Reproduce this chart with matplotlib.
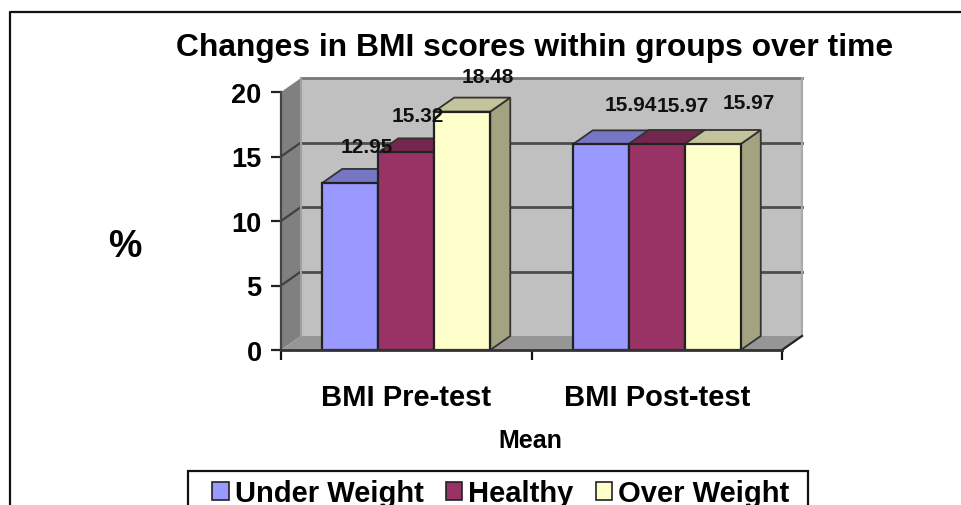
import numpy as np
import matplotlib
matplotlib.use("Agg")
import matplotlib.pyplot as plt
from matplotlib.lines import Line2D
from matplotlib.patches import Polygon, Rectangle

plt.rcParams['font.family'] = ['Liberation Sans', 'DejaVu Sans']
plt.rcParams['font.weight'] = 'bold'

groups = ["BMI Pre-test", "BMI Post-test"]
series = ["Under Weight", "Healthy", "Over Weight"]
under_weight = [12.95, 15.94]
healthy = [15.32, 15.97]
over_weight = [18.48, 15.97]
y_ticks = [0, 5, 10, 15, 20]

front_colors = ["#9999ff", "#993366", "#ffffcc"]
top_colors = ["#7676c4", "#74274e", "#c4c49c"]
side_colors = ["#7272b8", "#6e2549", "#a3a382"]

W, H = 961, 506
fig = plt.figure(figsize=(W / 100, H / 100), dpi=100)
ax = fig.add_axes([281 / W, (H - 351) / H, (782 - 281) / W, (351 - 93) / H])
ax.set_xlim(0, 2)
ax.set_ylim(0, 20)
ax.patch.set_visible(False)

# depth of the fake 3d, converted from pixels to data units
dx = 20 / (782 - 281) * 2
dy = 14 / (351 - 93) * 20
bar_w = 56 / (782 - 281) * 2


def para(points, color, z, edge="none", lw=0):
    ax.add_patch(Polygon(points, closed=True, facecolor=color, edgecolor=edge,
                         linewidth=lw, zorder=z, clip_on=False))


# walls and floor
para([(dx, dy), (2 + dx, dy), (2 + dx, 20 + dy), (dx, 20 + dy)], "#c0c0c0", 1)
para([(0, 0), (dx, dy), (dx, 20 + dy), (0, 20)], "#808080", 1)
para([(0, 0), (2, 0), (2 + dx, dy), (dx, dy)], "#969696", 1)

for v in y_ticks[1:-1]:
    ax.plot([dx, 2 + dx], [v + dy, v + dy], color="#4d4d4d", lw=2, zorder=2, clip_on=False)
    ax.plot([0, dx], [v, v + dy], color="#404040", lw=1.6, zorder=2, clip_on=False)
ax.plot([dx, 2 + dx], [20 + dy, 20 + dy], color="#777777", lw=2, zorder=2, clip_on=False)
ax.plot([dx, dx], [dy, 20 + dy], color="#a0a0a0", lw=1.5, zorder=2, clip_on=False)
ax.plot([2 + dx, 2 + dx], [dy, 20 + dy], color="#a8a8a8", lw=1.5, zorder=2, clip_on=False)
ax.plot([2, 2 + dx], [0, dy], color="#222222", lw=1.6, zorder=2, clip_on=False)

# label offsets from the bar centre in pixels, as they sit in the original
label_dx = [[17, 12, 26], [30, 26, 36]]
label_dy = [[36, 37, 35], [40, 38, 41]]

all_vals = [under_weight, healthy, over_weight]
group_x = np.array([0.5, 1.5])
z = 3
for i, vals in enumerate(all_vals):
    xs = group_x + (i - 1) * bar_w
    for j, (x, v) in enumerate(zip(xs, vals)):
        l, r = x - bar_w / 2, x + bar_w / 2
        para([(r, 0), (r + dx, dy), (r + dx, v + dy), (r, v)], side_colors[i], z,
             "#333333", 1.3)
        para([(l, v), (r, v), (r + dx, v + dy), (l + dx, v + dy)], top_colors[i], z,
             "#333333", 1.3)
    ax.bar(xs, vals, width=bar_w, color=front_colors[i], edgecolor="#222222",
           linewidth=1.6, zorder=z + 1, label=series[i])
    z += 2

for i, vals in enumerate(all_vals):
    xs = group_x + (i - 1) * bar_w
    for j, (x, v) in enumerate(zip(xs, vals)):
        ax.annotate(f"{v:.2f}", (x, v), xytext=(label_dx[j][i] * 0.72, label_dy[j][i] * 0.72),
                    textcoords="offset points", ha="center", va="center",
                    fontsize=15, zorder=20, annotation_clip=False, color="#111111")

for s in ["top", "right"]:
    ax.spines[s].set_visible(False)
ax.spines["left"].set_color("#444444")
ax.spines["left"].set_linewidth(1.6)
ax.spines["bottom"].set_color("#333333")
ax.spines["bottom"].set_linewidth(2)
ax.spines["bottom"].set_zorder(15)

ax.set_yticks(y_ticks)
ax.tick_params(axis="y", labelsize=19.5, length=7, width=1.6, color="#222222", pad=7)
ax.set_xticks([0, 1, 2])
ax.set_xticklabels([])
ax.tick_params(axis="x", which="major", length=7, width=1.6, color="#111111")
ax.set_xticks(group_x, minor=True)
ax.set_xticklabels(groups, minor=True, fontsize=21)
ax.tick_params(axis="x", which="minor", length=0, pad=24)

fig.text(535 / W, 1 - 48 / H, "Changes in BMI scores within groups over time",
         ha="center", va="center", fontsize=22.9)
fig.text(125 / W, 1 - 247 / H, "%", ha="center", va="center", fontsize=27)
fig.text(530 / W, 1 - 441 / H, "Mean", ha="center", va="center", fontsize=18)

# outer chart frame, runs off the right and bottom of the picture
fig.add_artist(Line2D([9.5 / W, 9.5 / W, 1], [0, 1 - 12.5 / H, 1 - 12.5 / H], color="#111111", lw=1.6))

# legend box is cut by the bottom edge, so the frame is drawn on its own
fig.add_artist(Rectangle((188 / W, -20 / H), 620 / W, (H - 472 + 20) / H, transform=fig.transFigure,
                         facecolor="white", edgecolor="#111111", linewidth=1.6, zorder=25))
leg = ax.legend(loc="upper left", bbox_to_anchor=(212 / W, 1 - 480 / H),
                bbox_transform=fig.transFigure, ncol=3, fontsize=21,
                frameon=False, handlelength=0.58, handleheight=0.58, handletextpad=0.2,
                columnspacing=0.75, borderpad=0, borderaxespad=0)
leg.set_zorder(30)
for h in leg.legend_handles:
    h.set_linewidth(1.2)
fig.artists[-1].set_zorder(1.5)
ax.set_zorder(2)

fig.savefig("out.png", dpi=100)
